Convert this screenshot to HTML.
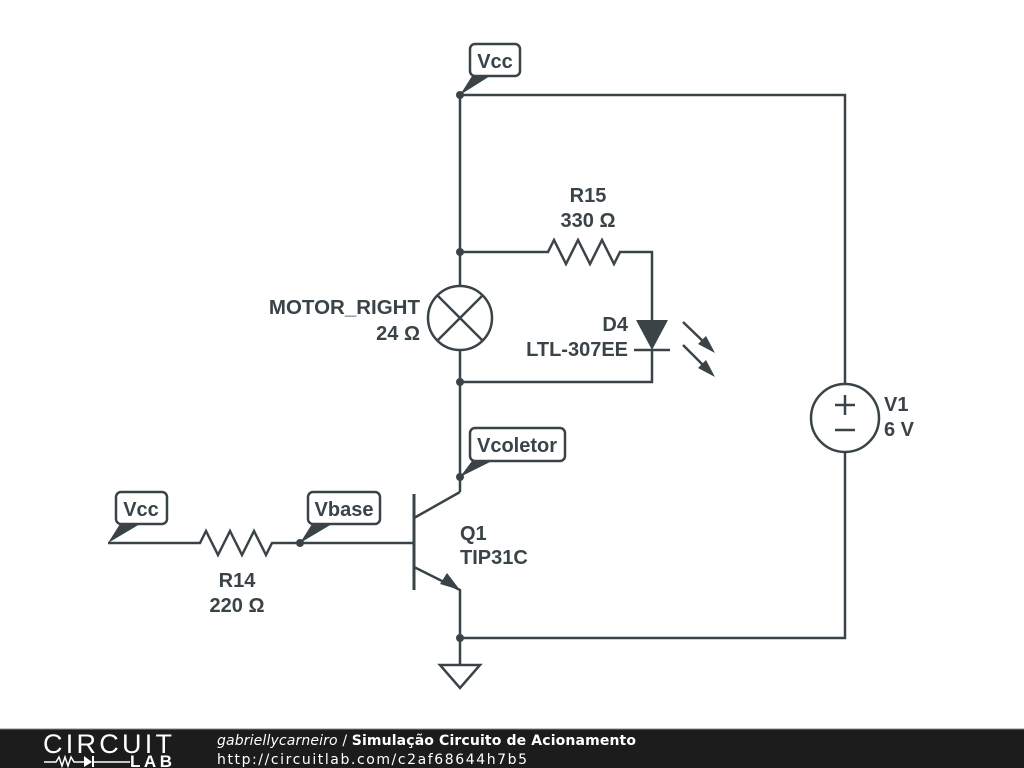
<!DOCTYPE html>
<html><head><style>
html,body{margin:0;padding:0;background:#fff;}
svg{display:block}
text{font-family:"Liberation Sans","DejaVu Sans",sans-serif;font-weight:bold;font-size:20px;fill:#3a4448}
</style></head><body>
<svg width="1024" height="768" viewBox="0 0 1024 768" xmlns="http://www.w3.org/2000/svg">
<g stroke="#3a4448" stroke-width="2.5" fill="none" stroke-linejoin="miter">
<polyline points="460,286 460,95 845,95 845,384"/>
<polyline points="845,452 845,638 460,638"/>
<line x1="460" y1="350" x2="460" y2="492"/>
<polyline points="460,252 548,252 554,240 566,264 578,240 590,264 602,240 614,264 620,252 652,252 652,320"/>
<polyline points="652,350 652,382 460,382"/>
<line x1="634" y1="350" x2="670" y2="350"/>
<circle cx="460" cy="318" r="32"/>
<line x1="437" y1="295" x2="483" y2="341"/><line x1="483" y1="295" x2="437" y2="341"/>
<circle cx="845" cy="418" r="34"/>
<line x1="835" y1="405" x2="855" y2="405"/><line x1="845" y1="395" x2="845" y2="415"/>
<line x1="835" y1="430" x2="855" y2="430"/>
<polyline points="460,492 414,518"/>
<line x1="414" y1="494" x2="414" y2="590" stroke-width="3"/>
<polyline points="414,567 460,590 460,665"/>
<polyline points="108,543 200,543 206,531 218,555 230,531 242,555 254,531 266,555 272,543 414,543"/>
<polygon points="440,665 480,665 460,688"/>
<line x1="683" y1="322" x2="708" y2="346"/>
<line x1="683" y1="345" x2="708" y2="370"/>
<rect x="470" y="44" width="50" height="32" rx="5" fill="#fff"/>
<rect x="470" y="428" width="95" height="33" rx="5" fill="#fff"/>
<rect x="116" y="492" width="51" height="32" rx="5" fill="#fff"/>
<rect x="308" y="492" width="72" height="32" rx="5" fill="#fff"/>
</g>
<g fill="#3a4448">
<polygon points="636,320 668,320 652,350"/>
<polygon points="698,344 715,353 706,336"/>
<polygon points="698,368 715,377 706,360"/>
<polygon points="460,590 447,573 440,584"/>
<polygon points="460,95 472,76 490,76"/>
<polygon points="460,477 472,461 492,461"/>
<polygon points="108,543 120,524 140,524"/>
<polygon points="300,543 312,524 332,524"/>
<circle cx="460" cy="95" r="4"/><circle cx="460" cy="252" r="4"/><circle cx="460" cy="382" r="4"/>
<circle cx="460" cy="477" r="4"/><circle cx="460" cy="638" r="4"/><circle cx="300" cy="543" r="4"/>
</g>
<text x="495" y="68" text-anchor="middle">Vcc</text>
<text x="517" y="452" text-anchor="middle">Vcoletor</text>
<text x="141" y="516" text-anchor="middle">Vcc</text>
<text x="344" y="516" text-anchor="middle">Vbase</text>
<text x="588" y="202" text-anchor="middle">R15</text>
<text x="588" y="227" text-anchor="middle">330 Ω</text>
<text x="420" y="314" text-anchor="end" style="font-size:20.5px">MOTOR_RIGHT</text>
<text x="420" y="340" text-anchor="end">24 Ω</text>
<text x="628" y="331" text-anchor="end">D4</text>
<text x="628" y="356" text-anchor="end">LTL-307EE</text>
<text x="884" y="411">V1</text>
<text x="884" y="436">6 V</text>
<text x="460" y="540">Q1</text>
<text x="460" y="564">TIP31C</text>
<text x="237" y="587" text-anchor="middle">R14</text>
<text x="237" y="612" text-anchor="middle">220 Ω</text>
<rect x="0" y="729" width="1024" height="39" fill="#1c1c1c"/>
<line x1="0" y1="729" x2="1024" y2="729" stroke="#888" stroke-width="1"/>
<text x="43" y="753" textLength="129" style="font-weight:normal;font-size:27px;fill:#fff">CIRCUIT</text>
<polyline points="44,762 56,762 59,757 62,766 65,757 68,766 71,757 74,762 84,762" stroke="#fff" stroke-width="1.5" fill="none"/>
<polygon points="84,756 84,767 92,762" fill="#fff"/><line x1="93" y1="756" x2="93" y2="767" stroke="#fff" stroke-width="2"/>
<line x1="93" y1="762" x2="130" y2="762" stroke="#fff" stroke-width="1.5"/>
<text x="130" y="767" textLength="42" style="font-size:17px;fill:#fff">LAB</text>
<text x="217" y="745" textLength="419" style="font-family:'DejaVu Sans',sans-serif;font-size:14px;fill:#fff;font-weight:normal"><tspan font-style="italic">gabriellycarneiro</tspan> / <tspan font-weight="bold">Simulação Circuito de Acionamento</tspan></text>
<text x="217" y="764" textLength="310" style="font-family:'DejaVu Sans',sans-serif;font-size:14px;fill:#fff;font-weight:normal">http://circuitlab.com/c2af68644h7b5</text>
</svg>
</body></html>
